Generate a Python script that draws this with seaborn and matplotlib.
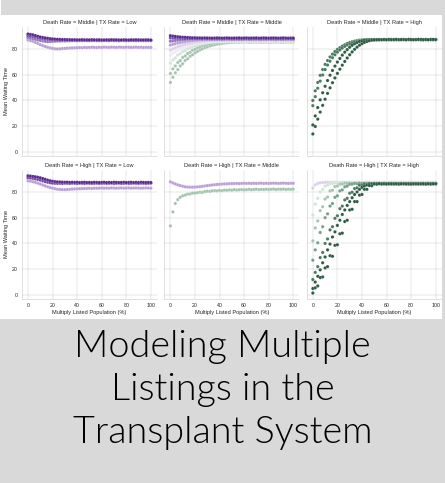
import pandas as pd
import seaborn as sns
import matplotlib.pyplot as plt
from matplotlib.patches import Rectangle

# x grid: share of the population listed at more than one centre
listed_pct = list(range(0, 101, 2))

# hue levels (dark purple -> light -> dark green)
levels = list(range(11))
level_colors = ["#5b2a8e", "#7449a3", "#9377bd", "#b9a0d6", "#ddd0ec", "#eeeaf0",
                "#d2e3d8", "#a5c4b1", "#75a088", "#4a7a60", "#2e5b43"]

row_order = ["Middle", "High"]
col_order = ["Low", "Middle", "High"]

# --- Death Rate = Middle | TX Rate = Low
ml0 = [91.6, 91.3, 91.0, 90.4, 89.8, 89.3, 88.9, 88.6, 88.3, 88.0,
       87.8, 87.6, 87.5, 87.4, 87.3, 87.3, 87.2, 87.2, 87.1, 87.2,
       87.0, 87.1, 87.2, 87.0, 87.1, 87.0, 87.2, 87.1, 87.0, 87.1,
       87.0, 86.9, 87.1, 87.0, 87.2, 87.0, 87.1, 86.9, 87.0, 87.1,
       87.0, 86.9, 87.1, 87.0, 87.2, 87.0, 86.9, 87.0, 87.1, 87.0,
       86.9]
ml1 = [90.2, 90.0, 89.7, 89.2, 88.7, 88.3, 88.0, 87.7, 87.5, 87.3,
       87.1, 87.0, 86.9, 86.8, 86.9, 86.8, 86.7, 86.8, 86.9, 86.7,
       86.8, 86.7, 86.9, 86.8, 86.7, 86.8, 86.9, 86.7, 86.8, 86.8,
       86.7, 86.9, 86.8, 86.7, 86.8, 86.9, 86.7, 86.8, 86.7, 86.8,
       86.9, 86.7, 86.8, 86.8, 86.7, 86.9, 86.8, 86.7, 86.8, 86.9,
       86.7]
ml2 = [88.8, 88.4, 88.0, 87.5, 87.0, 86.6, 86.2, 85.9, 85.7, 85.8,
       85.9, 86.0, 86.1, 86.2, 86.3, 86.2, 86.4, 86.3, 86.4, 86.5,
       86.4, 86.5, 86.4, 86.6, 86.5, 86.4, 86.5, 86.6, 86.5, 86.4,
       86.5, 86.6, 86.5, 86.4, 86.6, 86.5, 86.5, 86.4, 86.6, 86.5,
       86.4, 86.5, 86.6, 86.5, 86.4, 86.5, 86.6, 86.5, 86.4, 86.5,
       86.5]
ml3 = [87.0, 86.5, 85.9, 85.1, 84.3, 83.4, 82.6, 81.9, 81.3, 80.8,
       80.4, 80.1, 80.0, 80.1, 80.3, 80.4, 80.6, 80.7, 80.8, 80.9,
       81.0, 81.1, 81.0, 81.2, 81.1, 81.2, 81.3, 81.2, 81.1, 81.3,
       81.2, 81.4, 81.3, 81.2, 81.4, 81.3, 81.2, 81.4, 81.3, 81.2,
       81.4, 81.3, 81.2, 81.3, 81.4, 81.2, 81.3, 81.1, 81.3, 81.2,
       81.2]

# --- Death Rate = Middle | TX Rate = Middle
mm0 = [90.3, 90.0, 89.7, 89.5, 89.3, 89.1, 89.0, 88.9, 88.8, 88.7,
       88.7, 88.6, 88.6, 88.5, 88.6, 88.5, 88.5, 88.4, 88.5, 88.6,
       88.5, 88.4, 88.5, 88.6, 88.5, 88.4, 88.5, 88.5, 88.6, 88.4,
       88.5, 88.6, 88.4, 88.5, 88.5, 88.6, 88.4, 88.5, 88.6, 88.5,
       88.4, 88.5, 88.6, 88.5, 88.4, 88.5, 88.6, 88.5, 88.4, 88.5,
       88.5]
mm1 = [88.6, 88.5, 88.4, 88.3, 88.2, 88.2, 88.1, 88.1, 88.0, 88.0,
       88.0, 87.9, 88.0, 87.9, 87.9, 88.0, 87.9, 87.8, 87.9, 88.0,
       87.9, 87.8, 87.9, 88.0, 87.9, 87.9, 87.8, 88.0, 87.9, 87.8,
       87.9, 88.0, 87.9, 87.8, 87.9, 88.0, 87.9, 87.8, 87.9, 87.9,
       88.0, 87.9, 87.8, 87.9, 88.0, 87.9, 87.8, 87.9, 88.0, 87.9,
       87.9]
mm2 = [86.0, 86.3, 86.6, 86.8, 87.0, 87.2, 87.3, 87.4, 87.5, 87.5,
       87.6, 87.6, 87.7, 87.6, 87.7, 87.6, 87.7, 87.8, 87.7, 87.6,
       87.7, 87.6, 87.7, 87.8, 87.7, 87.6, 87.7, 87.7, 87.6, 87.7,
       87.8, 87.7, 87.6, 87.7, 87.7, 87.8, 87.6, 87.7, 87.7, 87.6,
       87.7, 87.8, 87.7, 87.6, 87.7, 87.7, 87.6, 87.7, 87.8, 87.7,
       87.6]
mm3 = [83.0, 83.6, 84.1, 84.6, 85.0, 85.4, 85.7, 86.0, 86.3, 86.5,
       86.7, 86.8, 87.0, 87.0, 87.1, 87.2, 87.2, 87.3, 87.2, 87.3,
       87.3, 87.2, 87.3, 87.4, 87.3, 87.2, 87.3, 87.3, 87.4, 87.3,
       87.2, 87.3, 87.4, 87.3, 87.3, 87.2, 87.4, 87.3, 87.3, 87.2,
       87.3, 87.4, 87.3, 87.2, 87.3, 87.3, 87.4, 87.3, 87.2, 87.3,
       87.3]
mm4 = [79.0, 80.0, 80.9, 81.7, 82.4, 83.0, 83.6, 84.0, 84.4, 84.8,
       85.1, 85.4, 85.6, 85.8, 86.0, 86.1, 86.3, 86.3, 86.4, 86.5,
       86.5, 86.6, 86.5, 86.6, 86.7, 86.6, 86.7, 86.6, 86.7, 86.6,
       86.7, 86.6, 86.7, 86.6, 86.5, 86.7, 86.6, 86.7, 86.6, 86.7,
       86.6, 86.7, 86.6, 86.5, 86.7, 86.6, 86.7, 86.6, 86.7, 86.6,
       86.6]
mm5 = [75.0, 76.6, 77.9, 79.0, 80.1, 81.0, 81.9, 82.6, 83.2, 83.8,
       84.2, 84.6, 85.0, 85.3, 85.5, 85.7, 85.9, 86.0, 86.1, 86.2,
       86.2, 86.3, 86.2, 86.3, 86.4, 86.3, 86.2, 86.3, 86.4, 86.3,
       86.2, 86.3, 86.4, 86.3, 86.2, 86.3, 86.3, 86.4, 86.2, 86.3,
       86.3, 86.2, 86.4, 86.3, 86.2, 86.3, 86.4, 86.3, 86.2, 86.3,
       86.3]
mm6 = [69.0, 71.5, 73.0, 75.2, 76.3, 78.0, 78.8, 80.2, 80.9, 82.0,
       82.4, 83.2, 83.6, 84.1, 84.5, 84.8, 85.2, 85.3, 85.6, 85.7,
       85.9, 85.8, 86.0, 86.1, 85.9, 86.1, 86.0, 86.2, 86.0, 86.1,
       86.0, 86.1, 86.2, 86.0, 86.1, 86.0, 86.2, 86.1, 86.0, 86.1,
       86.2, 86.0, 86.1, 86.1, 86.0, 86.2, 86.1, 86.0, 86.1, 86.2,
       86.0]
mm7 = [61.0, 64.5, 66.8, 69.5, 71.0, 73.4, 74.6, 76.5, 77.4, 79.0,
       79.7, 80.9, 81.5, 82.4, 82.8, 83.5, 83.9, 84.3, 84.7, 84.9,
       85.2, 85.3, 85.5, 85.6, 85.5, 85.7, 85.6, 85.8, 85.7, 85.6,
       85.8, 85.7, 85.6, 85.8, 85.7, 85.6, 85.7, 85.8, 85.6, 85.7,
       85.8, 85.6, 85.7, 85.7, 85.8, 85.6, 85.7, 85.8, 85.7, 85.6,
       85.7]
mm8 = [54.0, 58.0, 61.5, 64.0, 66.8, 68.5, 71.0, 72.4, 74.3, 75.5,
       77.0, 78.1, 79.3, 80.0, 81.0, 81.6, 82.3, 82.8, 83.3, 83.7,
       84.0, 84.3, 84.6, 84.8, 85.0, 85.1, 85.2, 85.3, 85.2, 85.4,
       85.3, 85.4, 85.3, 85.2, 85.4, 85.3, 85.4, 85.2, 85.3, 85.4,
       85.3, 85.2, 85.4, 85.3, 85.4, 85.3, 85.2, 85.4, 85.3, 85.3,
       85.4]

# --- Death Rate = Middle | TX Rate = High
mh0 = [40.0, 47.5, 54.0, 59.5, 64.0, 68.0, 71.0, 73.8, 76.0, 78.0,
       79.6, 81.0, 82.2, 83.3, 84.2, 85.0, 85.6, 86.1, 86.5, 86.8,
       87.0, 87.1, 87.2, 87.2, 87.3, 87.2, 87.3, 87.4, 87.3, 87.2,
       87.3, 87.4, 87.3, 87.2, 87.3, 87.3, 87.4, 87.3, 87.2, 87.3,
       87.3, 87.4, 87.3, 87.3, 87.2, 87.3, 87.4, 87.3, 87.3, 87.2,
       87.3]
mh1 = [36.0, 43.0, 49.5, 55.0, 59.8, 64.0, 67.5, 70.5, 73.2, 75.5,
       77.5, 79.2, 80.7, 82.0, 83.1, 84.0, 84.8, 85.4, 85.9, 86.3,
       86.6, 86.8, 87.0, 87.1, 87.1, 87.2, 87.2, 87.3, 87.2, 87.3,
       87.2, 87.3, 87.3, 87.2, 87.4, 87.3, 87.2, 87.3, 87.3, 87.4,
       87.2, 87.3, 87.3, 87.4, 87.2, 87.3, 87.3, 87.2, 87.4, 87.3,
       87.3]
mh2 = [21.0, 28.0, 34.5, 40.5, 46.0, 51.0, 55.5, 59.6, 63.3, 66.7,
       69.8, 72.6, 75.2, 77.5, 79.5, 81.3, 82.8, 84.0, 85.0, 85.8,
       86.4, 86.8, 87.0, 87.1, 87.2, 87.2, 87.3, 87.2, 87.3, 87.3,
       87.2, 87.3, 87.4, 87.3, 87.2, 87.3, 87.3, 87.4, 87.2, 87.3,
       87.3, 87.2, 87.3, 87.4, 87.3, 87.2, 87.3, 87.3, 87.4, 87.3,
       87.2]
mh3 = [14.0, 19.8, 25.5, 31.0, 36.2, 41.0, 45.5, 49.8, 53.8, 57.5,
       61.0, 64.3, 67.4, 70.3, 73.0, 75.5, 77.7, 79.7, 81.4, 82.9,
       84.1, 85.1, 85.8, 86.4, 86.8, 87.0, 87.1, 87.2, 87.2, 87.3,
       87.2, 87.3, 87.2, 87.3, 87.4, 87.2, 87.3, 87.3, 87.2, 87.4,
       87.3, 87.2, 87.3, 87.3, 87.4, 87.2, 87.3, 87.2, 87.3, 87.4,
       87.3]

# --- Death Rate = High | TX Rate = Low
hl0 = [92.5, 92.3, 92.0, 91.8, 91.4, 91.0, 90.4, 89.8, 89.2, 88.7,
       88.3, 88.0, 87.8, 87.7, 87.6, 87.5, 87.6, 87.4, 87.5, 87.4,
       87.5, 87.3, 87.4, 87.5, 87.3, 87.4, 87.3, 87.5, 87.4, 87.3,
       87.4, 87.5, 87.3, 87.4, 87.3, 87.5, 87.4, 87.3, 87.4, 87.5,
       87.3, 87.4, 87.5, 87.3, 87.4, 87.3, 87.5, 87.4, 87.3, 87.4,
       87.3]
hl1 = [91.0, 90.8, 90.5, 90.1, 89.7, 89.2, 88.6, 88.0, 87.5, 87.1,
       86.8, 86.7, 86.6, 86.7, 86.6, 86.8, 86.7, 86.6, 86.8, 86.7,
       86.6, 86.8, 86.7, 86.6, 86.8, 86.7, 86.6, 86.7, 86.8, 86.6,
       86.7, 86.8, 86.6, 86.7, 86.8, 86.6, 86.7, 86.8, 86.6, 86.7,
       86.8, 86.6, 86.7, 86.8, 86.7, 86.6, 86.8, 86.7, 86.6, 86.7,
       86.8]
hl2 = [88.6, 88.3, 87.9, 87.4, 86.8, 86.1, 85.4, 84.7, 84.0, 83.4,
       82.9, 82.5, 82.1, 81.9, 81.8, 81.8, 81.9, 82.0, 82.2, 82.3,
       82.4, 82.5, 82.6, 82.6, 82.7, 82.8, 82.7, 82.9, 82.8, 82.9,
       83.0, 82.9, 83.0, 82.9, 83.1, 83.0, 82.9, 83.0, 83.1, 82.9,
       83.0, 83.1, 82.9, 83.0, 83.1, 83.0, 82.9, 83.0, 83.1, 83.0,
       82.9]

# --- Death Rate = High | TX Rate = Middle
hm0 = [87.8, 87.0, 86.2, 85.5, 84.9, 84.4, 84.0, 83.8, 83.7, 83.7,
       83.8, 83.9, 84.1, 84.3, 84.6, 84.9, 85.1, 85.4, 85.6, 85.8,
       85.9, 86.1, 86.2, 86.3, 86.4, 86.5, 86.5, 86.6, 86.5, 86.6,
       86.7, 86.6, 86.7, 86.6, 86.7, 86.6, 86.7, 86.8, 86.6, 86.7,
       86.6, 86.7, 86.8, 86.7, 86.6, 86.7, 86.8, 86.7, 86.6, 86.7,
       86.7]
hm1 = [53.6, 64.5, 71.0, 74.0, 75.8, 77.0, 77.5, 78.3, 78.4, 79.0,
       79.1, 79.4, 79.8, 79.6, 80.3, 80.6, 80.4, 80.9, 81.0, 80.8,
       81.2, 81.0, 81.4, 81.3, 81.6, 81.4, 81.8, 81.5, 81.7, 81.9,
       81.6, 81.8, 82.0, 81.7, 81.9, 82.1, 81.8, 82.0, 81.9, 82.1,
       81.9, 82.0, 82.2, 81.9, 82.1, 82.0, 82.2, 81.9, 82.1, 82.0,
       82.2]

# --- Death Rate = High | TX Rate = High
hh0 = [83.0, 85.5, 86.6, 87.1, 87.3, 87.4, 87.5, 87.4, 87.5, 87.6,
       87.5, 87.4, 87.6, 87.5, 87.5, 87.6, 87.4, 87.5, 87.6, 87.5,
       87.4, 87.5, 87.6, 87.5, 87.4, 87.6, 87.5, 87.5, 87.4, 87.6,
       87.5, 87.4, 87.6, 87.5, 87.5, 87.4, 87.6, 87.5, 87.4, 87.5,
       87.6, 87.5, 87.4, 87.5, 87.6, 87.5, 87.4, 87.6, 87.5, 87.5,
       87.4]
hh1 = [62.0, 70.5, 75.0, 80.0, 82.0, 84.5, 85.3, 86.4, 86.6, 87.0,
       86.9, 87.0, 86.8, 87.0, 86.9, 86.8, 87.0, 86.9, 86.8, 87.0,
       86.9, 86.8, 87.0, 86.9, 86.8, 86.9, 87.0, 86.8, 86.9, 87.0,
       86.8, 86.9, 87.0, 86.9, 86.8, 86.9, 87.0, 86.8, 86.9, 86.9,
       87.0, 86.8, 86.9, 87.0, 86.9, 86.8, 86.9, 87.0, 86.9, 86.8,
       86.9]
hh2 = [42.0, 52.0, 57.5, 65.5, 68.5, 74.5, 76.0, 80.8, 81.3, 84.2,
       84.6, 86.0, 86.1, 86.8, 86.7, 86.9, 86.7, 86.8, 86.6, 86.8,
       86.7, 86.6, 86.8, 86.7, 86.6, 86.8, 86.7, 86.6, 86.7, 86.8,
       86.6, 86.7, 86.8, 86.7, 86.6, 86.7, 86.8, 86.6, 86.7, 86.8,
       86.7, 86.6, 86.8, 86.7, 86.6, 86.7, 86.8, 86.7, 86.6, 86.7,
       86.8]
hh3 = [27.0, 35.0, 40.5, 48.5, 53.0, 60.0, 63.0, 69.0, 71.0, 75.8,
       77.0, 80.8, 81.6, 84.0, 84.5, 85.9, 86.0, 86.6, 86.4, 86.7,
       86.5, 86.6, 86.4, 86.6, 86.5, 86.4, 86.6, 86.5, 86.4, 86.6,
       86.5, 86.4, 86.6, 86.5, 86.5, 86.4, 86.6, 86.5, 86.4, 86.5,
       86.6, 86.4, 86.5, 86.6, 86.5, 86.4, 86.5, 86.6, 86.4, 86.5,
       86.5]
hh4 = [12.0, 17.5, 22.0, 29.0, 33.0, 40.0, 43.5, 50.5, 53.0, 59.5,
       61.5, 67.0, 69.0, 73.8, 75.0, 79.0, 79.8, 82.6, 83.2, 85.2,
       85.4, 86.3, 86.2, 86.6, 86.4, 86.5, 86.3, 86.5, 86.4, 86.3,
       86.5, 86.4, 86.3, 86.5, 86.4, 86.3, 86.4, 86.5, 86.3, 86.4,
       86.5, 86.3, 86.4, 86.5, 86.4, 86.3, 86.4, 86.5, 86.3, 86.4,
       86.4]
hh5 = [5.0, 10.0, 14.5, 19.5, 25.0, 29.5, 35.0, 39.5, 45.0, 49.0,
       54.0, 58.0, 62.5, 66.0, 69.5, 72.5, 75.5, 78.0, 80.0, 82.0,
       83.5, 84.6, 85.4, 86.0, 86.2, 86.4, 86.3, 86.5, 86.3, 86.4,
       86.2, 86.4, 86.3, 86.5, 86.3, 86.2, 86.4, 86.3, 86.4, 86.2,
       86.3, 86.4, 86.2, 86.3, 86.4, 86.3, 86.2, 86.4, 86.3, 86.3,
       86.4]
hh6 = [1.5, 5.5, 7.0, 13.5, 14.0, 21.0, 22.0, 30.5, 30.0, 38.5,
       39.0, 47.5, 48.0, 57.0, 58.0, 66.0, 66.5, 72.5, 72.5, 77.5,
       78.0, 82.0, 82.0, 85.0, 84.8, 86.3, 86.0, 86.5, 86.2, 86.4,
       86.2, 86.4, 86.3, 86.1, 86.4, 86.2, 86.3, 86.4, 86.2, 86.3,
       86.1, 86.3, 86.4, 86.2, 86.3, 86.4, 86.1, 86.3, 86.2, 86.4,
       86.3]

# (death rate, tx rate, hue level, values)
series = [
    ("Middle", "Low", 3, ml3), ("Middle", "Low", 2, ml2),
    ("Middle", "Low", 1, ml1), ("Middle", "Low", 0, ml0),
    ("Middle", "Middle", 7, mm8), ("Middle", "Middle", 7, mm7),
    ("Middle", "Middle", 6, mm6), ("Middle", "Middle", 5, mm5),
    ("Middle", "Middle", 4, mm4), ("Middle", "Middle", 3, mm3),
    ("Middle", "Middle", 2, mm2), ("Middle", "Middle", 1, mm1),
    ("Middle", "Middle", 0, mm0),
    ("Middle", "High", 9, mh0), ("Middle", "High", 9, mh1),
    ("Middle", "High", 10, mh2), ("Middle", "High", 10, mh3),
    ("High", "Low", 3, hl2), ("High", "Low", 1, hl1), ("High", "Low", 0, hl0),
    ("High", "Middle", 3, hm0), ("High", "Middle", 7, hm1),
    ("High", "High", 4, hh0), ("High", "High", 6, hh1),
    ("High", "High", 7, hh2), ("High", "High", 8, hh3),
    ("High", "High", 9, hh4), ("High", "High", 10, hh5),
    ("High", "High", 10, hh6),
]

frames = []
for death, tx, lvl, vals in series:
    part = pd.DataFrame({"Multiply Listed Population (%)": listed_pct,
                         "Mean Waiting Time": vals})
    part["Death Rate"] = death
    part["TX Rate"] = tx
    part["Policy"] = lvl
    frames.append(part)
df = pd.concat(frames, ignore_index=True)

sns.set_theme(style="whitegrid", font="Liberation Sans")

g = sns.relplot(data=df, x="Multiply Listed Population (%)", y="Mean Waiting Time",
                hue="Policy", hue_order=levels, palette=level_colors,
                row="Death Rate", col="TX Rate", row_order=row_order, col_order=col_order,
                kind="scatter", legend=False, height=4, aspect=1,
                s=48, linewidth=0.3)

fig = g.figure
# drawn large and saved at a low dpi, like a shrunken notebook plot
fig.set_size_inches(445 / 34, 483 / 34)
fig.subplots_adjust(left=0.0491, right=0.9928, top=0.9441, bottom=0.3812,
                    wspace=0.054, hspace=0.109)

# grey card around the chart
grey = "#d9d9d9"
fig.add_artist(Rectangle((1 / 445, 1 - 15 / 483), 1, 15 / 483,
                         transform=fig.transFigure, color=grey, lw=0))
fig.add_artist(Rectangle((0, 0), 1, 164 / 483,
                         transform=fig.transFigure, color=grey, lw=0))
fig.add_artist(Rectangle((442 / 445, 0), 3 / 445, 1,
                         transform=fig.transFigure, color=grey, lw=0))

title_lines = ["Modeling Multiple", "Listings in the", "Transplant System"]
baselines = [356.7, 400.0, 443.3]
for line, yb in zip(title_lines, baselines):
    fig.text(0.5, 1 - yb / 483, line, ha="center", va="baseline",
             fontsize=80, family="Lato", weight=300, color="black")

fig.savefig("out.png", dpi=34)
